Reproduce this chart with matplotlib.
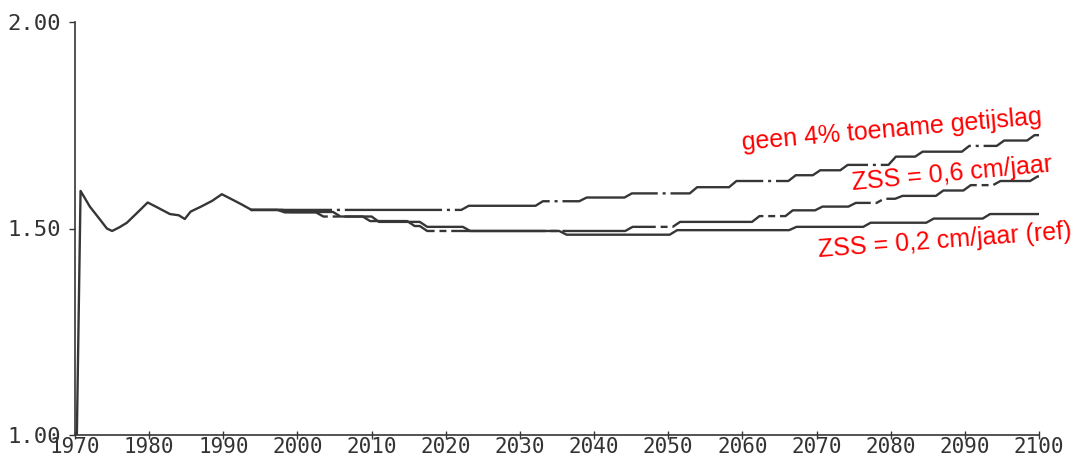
import numpy as np
import matplotlib
matplotlib.use("Agg")
import matplotlib.pyplot as plt

# Shared course of the tidal range, 1970-1994
common_years = [1970.25, 1970.75, 1972.0, 1973.4, 1974.3, 1975.0, 1976.0, 1977.0,
                1978.5, 1979.8, 1981.0, 1982.8, 1984.0, 1984.8, 1985.6, 1987.0,
                1988.5, 1989.8, 1991.0, 1992.5, 1993.8]
common_values = [1.00, 1.591, 1.553, 1.521, 1.500, 1.494, 1.503, 1.514,
                 1.540, 1.563, 1.552, 1.535, 1.532, 1.523, 1.541, 1.553,
                 1.567, 1.583, 1.572, 1.558, 1.545]

# Scenario levels as (year of step, level after step)
start_year, start_level, end_year = 1993.8, 1.545, 2100

geen_step_years = [2022.1, 2032.1, 2038.0, 2044.1, 2052.9, 2058.2, 2066.2, 2069.5,
                   2073.2, 2079.7, 2083.3, 2089.6, 2094.3, 2098.4]
geen_levels = [1.555, 1.566, 1.575, 1.585, 1.600, 1.615, 1.629, 1.641,
               1.654, 1.674, 1.686, 1.700, 1.713, 1.726]

zss06_step_years = [1997.3, 2002.5, 2008.8, 2014.8, 2016.5, 2044.2, 2050.6, 2061.3,
                    2065.8, 2069.8, 2074.3, 2078.1, 2080.6, 2086.1, 2089.8, 2093.8,
                    2098.8]
zss06_levels = [1.539, 1.529, 1.518, 1.506, 1.494, 1.504, 1.516, 1.530,
                1.544, 1.553, 1.562, 1.572, 1.579, 1.592, 1.605, 1.615,
                1.626]

ref_step_years = [1998.0, 2004.8, 2010.0, 2016.5, 2022.3, 2035.3, 2050.2, 2066.3,
                  2076.3, 2084.8, 2092.4]
ref_levels = [1.540, 1.529, 1.516, 1.504, 1.494, 1.485, 1.496, 1.504,
              1.514, 1.524, 1.535]

x_ticks = list(range(1970, 2101, 10))
y_ticks = [1.00, 1.50, 2.00]
y_tick_labels = ["1.00", "1.50", "2.00"]

label_geen = "geen 4% toename getijslag"
label_zss06 = "ZSS = 0,6 cm/jaar"
label_ref = "ZSS = 0,2 cm/jaar (ref)"


def staircase(step_years, levels, ramp=1.0):
    """Polyline of a plotter-style staircase: flat runs joined by short ramps."""
    xs, ys = [start_year], [start_level]
    level = start_level
    for yr, new in zip(step_years, levels):
        xs += [yr, yr + ramp]
        ys += [level, new]
        level = new
    xs.append(end_year)
    ys.append(level)
    return xs, ys


plt.rcParams["lines.scale_dashes"] = False
ink = "#363636"

fig = plt.figure(figsize=(10.85, 4.58), dpi=100)
ax = fig.add_axes([75 / 1085, 23 / 458, 964 / 1085, 413 / 458])

ax.plot(common_years, common_values, color=ink, lw=1.7, solid_joinstyle="round")

gx, gy = staircase(geen_step_years, geen_levels)
ax.plot(gx, gy, color=ink, lw=1.7, linestyle=(12, (70, 3.5, 2.2, 3.5)))

mx, my = staircase(zss06_step_years, zss06_levels)
ax.plot(mx, my, color=ink, lw=1.7, linestyle=(12, (68, 3.5, 5, 3.5)))

rx, ry = staircase(ref_step_years, ref_levels)
ax.plot(rx, ry, color=ink, lw=1.7)

ax.set_xlim(1970, 2100)
ax.set_ylim(1.0, 2.0)

for side in ("top", "right"):
    ax.spines[side].set_visible(False)
for side in ("left", "bottom"):
    ax.spines[side].set_color(ink)
    ax.spines[side].set_linewidth(1.2)

tick_font = {"family": "DejaVu Sans Mono", "size": 15, "color": "#333333"}
ax.set_xticks(x_ticks)
ax.set_xticklabels([str(t) for t in x_ticks], fontdict=tick_font)
ax.set_yticks(y_ticks)
ax.set_yticklabels(y_tick_labels, fontdict={**tick_font, "size": 16})
ax.tick_params(axis="x", direction="inout", length=6, width=1.0, color=ink, pad=-1.5)
ax.tick_params(axis="y", direction="out", length=4, width=1.0, color=ink, pad=6)

txt = {"family": "Liberation Sans", "size": 18, "color": "red",
       "rotation_mode": "anchor", "ha": "left", "va": "center"}
ax.text(2060.0, 1.708, label_geen, rotation=5.0, **txt)
ax.text(2074.8, 1.610, label_zss06, rotation=5.3, **txt)
ax.text(2070.2, 1.447, label_ref, rotation=4.2, **txt)

fig.savefig("out.png", dpi=100, facecolor="white")
